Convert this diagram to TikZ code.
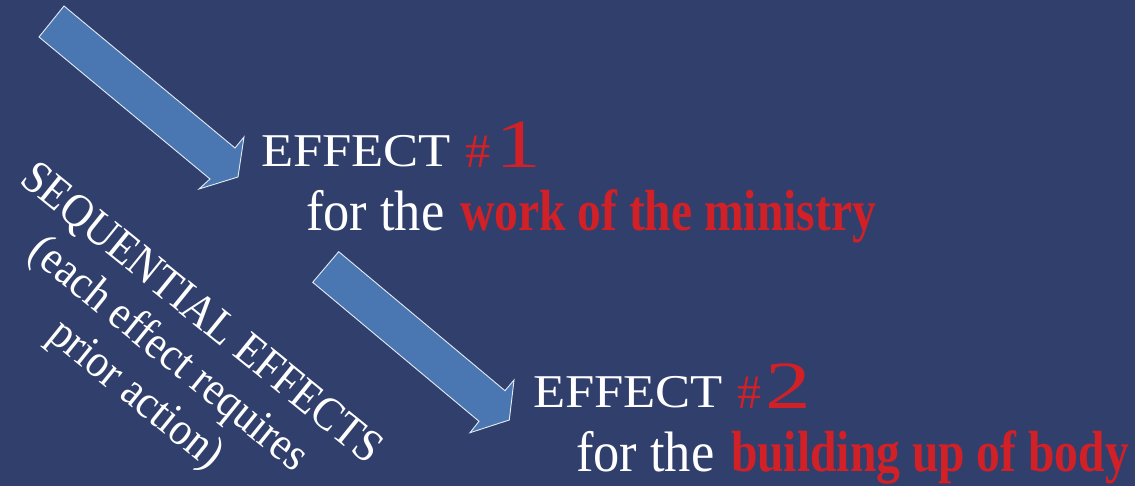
\documentclass[tikz,border=0pt]{standalone}
\usepackage{fontspec}
\setmainfont{Liberation Serif}
\definecolor{bg}{RGB}{49,63,109}
\definecolor{arrowfill}{RGB}{74,119,178}
\definecolor{accent}{RGB}{210,32,39}
\tikzset{
  blockarrow/.style={fill=arrowfill, draw=white!85!arrowfill, line width=0.9pt, line join=miter},
  txt/.style={anchor=base west, inner sep=0pt, outer sep=0pt, text=white},
  red/.style={txt, text=accent},
}
\begin{document}
\begin{tikzpicture}[x=1pt,y=-1pt]
\fill[bg] (0,0) rectangle (1135,486);
\useasboundingbox (0,0) rectangle (1135,486);
% arrow 1
\draw[blockarrow] (64,6) -- (235,148) -- (244,137) -- (238,177) -- (199,189) -- (210,179) -- (39,37) -- cycle;
% arrow 2
\draw[blockarrow] (338.7,251.7) -- (505,390.7) -- (514,380) -- (509.3,420) -- (470,432.7) -- (479,421.3) -- (312.7,282.3) -- cycle;
% effect 1
\node[txt] (e1) at (261,167) {\fontsize{47}{47}\selectfont\scalebox{1.12}[1]{EFFECT}};
\node[red] (h1) at (465,168) {\fontsize{48}{48}\selectfont\scalebox{1.05}[1]{\#}};
\node[red] (n1) at (495,168) {\fontsize{69}{69}\selectfont\scalebox{1.33}[1]{1}};
\node[txt] (f1) at (306,231) {\fontsize{57}{57}\selectfont\scalebox{0.92}[1]{for the}};
\node[red] (w1) at (460,231) {\fontsize{58}{58}\selectfont\bfseries\scalebox{0.82}[1]{work of the ministry}};
% effect 2
\node[txt] (e2) at (533,407.3) {\fontsize{47}{47}\selectfont\scalebox{1.12}[1]{EFFECT}};
\node[red] (h2) at (737,408) {\fontsize{48}{48}\selectfont\scalebox{1.0}[1]{\#}};
\node[red] (n2) at (765,408) {\fontsize{67.6}{67.6}\selectfont\scalebox{1.35}[1]{2}};
\node[txt] (f2) at (576,471.7) {\fontsize{57}{57}\selectfont\scalebox{0.92}[1]{for the}};
\node[red] (b2) at (731,471.7) {\fontsize{58}{58}\selectfont\bfseries\scalebox{0.82}[1]{building up of body}};
% rotated label
\node[text=white, inner sep=0pt, rotate=-39] (seq) at (167,356)
  {\fontsize{47}{52}\selectfont\scalebox{0.9}[1]{\begin{tabular}{@{}c@{}}SEQUENTIAL EFFECTS\\(each effect requires\\prior action)\end{tabular}}};
\end{tikzpicture}
\end{document}
